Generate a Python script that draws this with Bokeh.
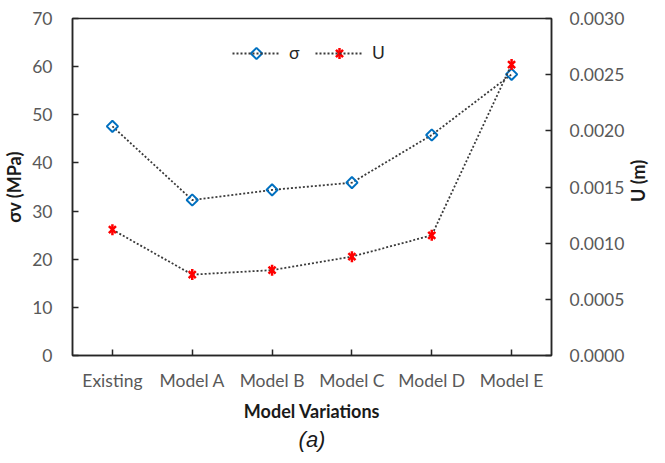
import math
from bokeh.plotting import figure
from bokeh.models import (FactorRange, Range1d, LinearAxis, SingleIntervalTicker,
                          NumeralTickFormatter, Legend, LegendItem, Title, Label)
from bokeh.embed import file_html
from bokeh.resources import INLINE

categories = ["Existing", "Model A", "Model B", "Model C", "Model D", "Model E"]
sigma = [47.6, 32.3, 34.4, 35.9, 45.8, 58.4]
disp = [0.00112, 0.00072, 0.00076, 0.00088, 0.00107, 0.00259]

FONT = "Lato"
TICK_COLOR = "#595959"
AXIS_COLOR = "#262626"
TITLE_COLOR = "#1a1a1a"

W, H = 649, 455
BL, BR, BT, BB = 65, 98, 18, 100
BR_ACTUAL = 105  # right side grows to fit tick labels plus the right title
Y_MAX = 70
U_MAX = 0.003

p = figure(width=W, height=H, x_range=FactorRange(*categories),
           y_range=Range1d(0, Y_MAX), output_backend="svg", toolbar_location=None,
           min_border_left=BL, min_border_right=BR, min_border_top=BT,
           min_border_bottom=BB)
p.extra_y_ranges = {"u": Range1d(0, U_MAX)}
p.xgrid.visible = False
p.ygrid.visible = False
p.outline_line_color = AXIS_COLOR
p.outline_line_width = 1.5

ya = p.yaxis[0]
ya.ticker = SingleIntervalTicker(interval=10)
ya.axis_label = "σv (MPa)"

ra = LinearAxis(y_range_name="u", ticker=SingleIntervalTicker(interval=0.0005),
                formatter=NumeralTickFormatter(format="0.0000"))
p.add_layout(ra, "right")

for ax in [p.xaxis[0], ya, ra]:
    ax.axis_line_color = AXIS_COLOR
    ax.axis_line_width = 1.5
    ax.major_tick_line_color = AXIS_COLOR
    ax.major_tick_line_width = 1.5
    ax.major_tick_in = 6
    ax.major_tick_out = 0
    ax.minor_tick_line_color = None
    ax.major_label_text_font = FONT
    ax.major_label_text_font_size = "17.5px"
    ax.major_label_text_color = TICK_COLOR
    ax.axis_label_text_font = FONT
    ax.axis_label_text_font_size = "18px"
    ax.axis_label_text_font_style = "bold"
    ax.axis_label_text_color = TITLE_COLOR

p.xaxis[0].axis_label = "Model Variations"
p.xaxis[0].major_label_standoff = 14
p.xaxis[0].axis_label_standoff = 6
ya.major_label_standoff = 16
ya.axis_label_standoff = 4
ra.major_label_standoff = 14

# right axis title, read bottom to top, placed in the right side panel
p.add_layout(Label(x=len(categories) + 1.08, y=Y_MAX * 0.518, text="U (m)",
                   angle=math.pi / 2, text_align="center", text_baseline="middle",
                   text_font=FONT, text_font_size="18px", text_font_style="bold",
                   text_color=TITLE_COLOR), "right")

cap = Title(text="(a)", align="center", text_font="Liberation Sans",
            text_font_size="22px", text_font_style="italic", text_color=TITLE_COLOR,
            standoff=0)
p.add_layout(cap, "below")

LINE_COLOR = "#3a3a3a"
BLUE = "#0070C0"
RED = "#FF0000"


def sigma_marker(x, y, **kw):
    return p.scatter(x, y, marker="square", angle=math.pi / 4, size=8,
                     line_color=BLUE, line_width=2, fill_color=None, **kw)


def u_marker(x, y, **kw):
    a = p.scatter(x, y, marker="x", size=10, line_color=RED, line_width=2.5, **kw)
    b = p.scatter(x, y, marker="dash", angle=math.pi / 2, size=11,
                  line_color=RED, line_width=2.5, **kw)
    return a, b


ls = p.line(categories, sigma, line_color=LINE_COLOR, line_width=1.8, line_dash="2 2")
sigma_marker(categories, sigma)
lu = p.line(categories, disp, y_range_name="u", line_color=LINE_COLOR,
            line_width=1.8, line_dash="2 2")
u_marker(categories, disp, y_range_name="u")

# legend (two single-item legends so that symbol positions are known)
GW, GH = 48, 20
LEG_Y = 292
LEG_X = [160, 243]
frame_w = W - BL - BR_ACTUAL
frame_h = H - BT - BB
for lx, label, rend in zip(LEG_X, ["σ", "U"], [ls, lu]):
    lg = Legend(items=[LegendItem(label=label, renderers=[rend])],
                location=(lx, LEG_Y), glyph_width=GW, glyph_height=GH,
                label_standoff=9, padding=0, margin=0, border_line_alpha=0,
                background_fill_alpha=0, label_text_font=FONT,
                label_text_font_size="17.5px", label_text_color="#262626")
    p.add_layout(lg, "center")

sym_x = [(lx + GW / 2) / frame_w * len(categories) for lx in LEG_X]
sym_y = (LEG_Y + GH / 2) / frame_h * Y_MAX
sigma_marker([sym_x[0]], [sym_y], level="overlay")
u_marker([sym_x[1]], [sym_y], level="overlay")

open("out.html", "w").write(file_html(p, INLINE))
